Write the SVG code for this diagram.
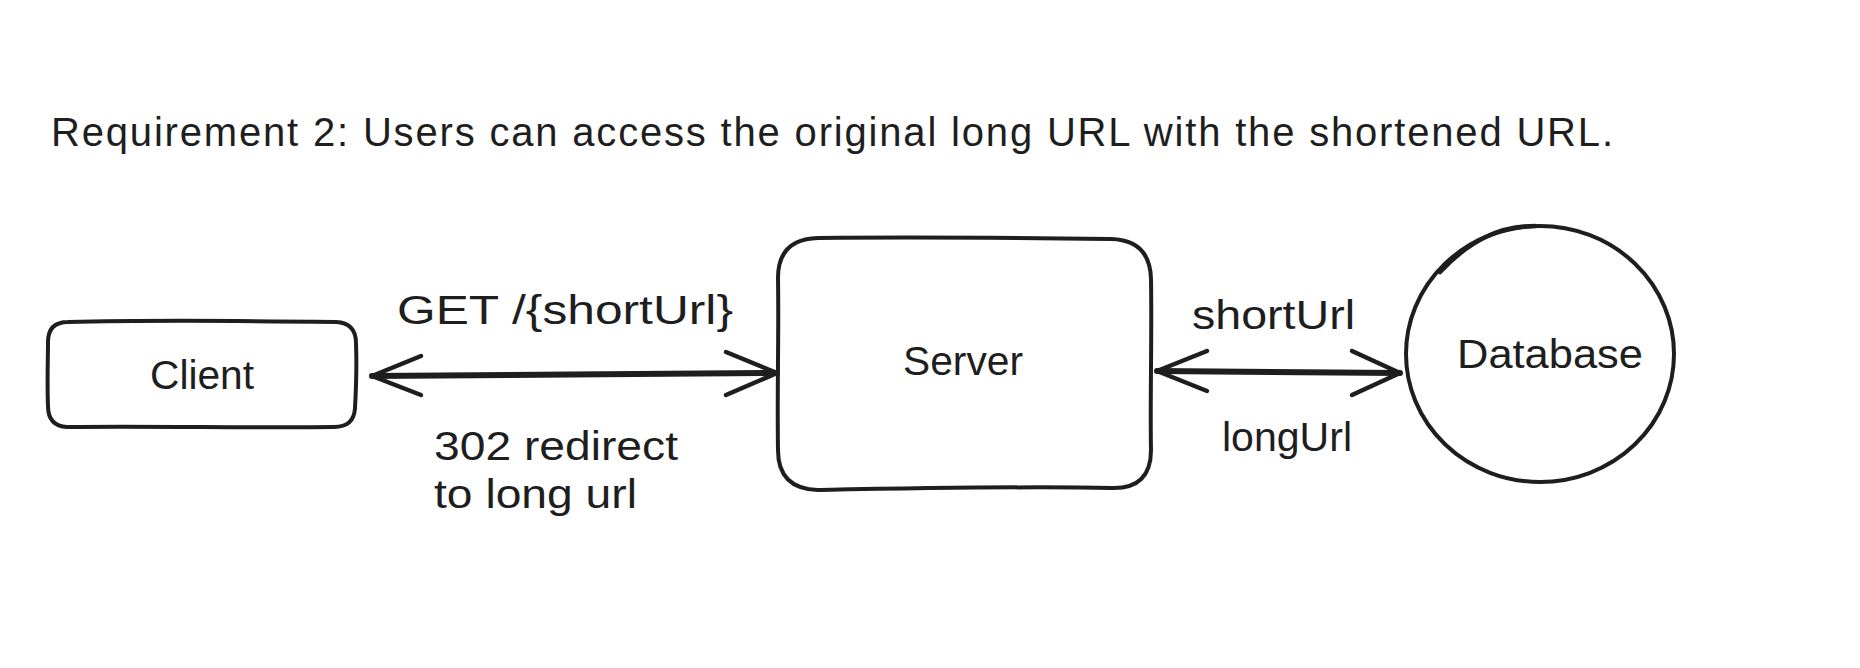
<svg xmlns="http://www.w3.org/2000/svg" width="1860" height="668" viewBox="0 0 1860 668">
<style>
  .t { font-family: "Liberation Sans", Arial, sans-serif; font-size: 40px; fill: #1e1e1e; }
  .shape { fill: #ffffff; stroke: #1e1e1e; stroke-width: 4; stroke-linecap: round; stroke-linejoin: round; }
  .conn { fill: none; stroke: #1e1e1e; stroke-width: 6; stroke-linecap: round; stroke-linejoin: round; }
  .head { fill: none; stroke: #1e1e1e; stroke-width: 4.5; stroke-linecap: round; stroke-linejoin: round; }
</style>
<rect width="1860" height="668" fill="#ffffff"/>
<g id="title">
  <text class="t" x="51" y="146" textLength="1562" lengthAdjust="spacing">Requirement 2: Users can access the original long URL with the shortened URL.</text>
</g>
<g id="client">
  <path class="shape" d="M68 322 C150 320 260 321 336 322 Q356 323 356 343 C357 370 356 390 355 408 Q354 427 334 427 C250 428 150 426 67 427 Q48 426 48 406 C47 380 48 360 48 342 Q48 322 68 322 Z"/>
  <text class="t" x="202" y="389" text-anchor="middle" textLength="104" lengthAdjust="spacingAndGlyphs">Client</text>
</g>
<g id="server">
  <path class="shape" d="M818 238 C920 237 1030 238 1111 239 Q1150 240 1151 279 C1152 340 1150 400 1151 450 Q1151 489 1112 488 C1020 486 920 488 818 490 Q778 489 778 450 C777 390 779 330 778 278 Q778 239 818 238 Z"/>
  <text class="t" x="963" y="375" text-anchor="middle" textLength="120" lengthAdjust="spacingAndGlyphs">Server</text>
</g>
<g id="database">
  <ellipse class="shape" cx="1540" cy="354" rx="134" ry="128"/>
  <path class="head" stroke-width="2.5" d="M1440 272 C1470 240 1500 226 1535 226"/>
  <text class="t" x="1550" y="368" text-anchor="middle" textLength="186" lengthAdjust="spacingAndGlyphs">Database</text>
</g>
<g id="connectors">
  <path class="conn" d="M372 376 C500 375 650 374 777 373"/>
  <path class="head" d="M421 356 L372 376 L421 395"/>
  <path class="head" d="M726 352 L777 373 L726 395"/>
  <path class="conn" d="M1157 371 C1240 371 1320 372 1400 373"/>
  <path class="head" d="M1207 351 L1157 371 L1207 391"/>
  <path class="head" d="M1352 351 L1400 373 L1352 395"/>
</g>
<g id="labels">
  <text class="t" x="397" y="324" textLength="336" lengthAdjust="spacingAndGlyphs">GET /{shortUrl}</text>
  <text class="t" x="434" y="460" textLength="244" lengthAdjust="spacingAndGlyphs">302 redirect</text>
  <text class="t" x="434" y="508" textLength="203" lengthAdjust="spacingAndGlyphs">to long url</text>
  <text class="t" x="1192" y="329" textLength="163" lengthAdjust="spacingAndGlyphs">shortUrl</text>
  <text class="t" x="1222" y="451" textLength="130" lengthAdjust="spacingAndGlyphs">longUrl</text>
</g>
</svg>
